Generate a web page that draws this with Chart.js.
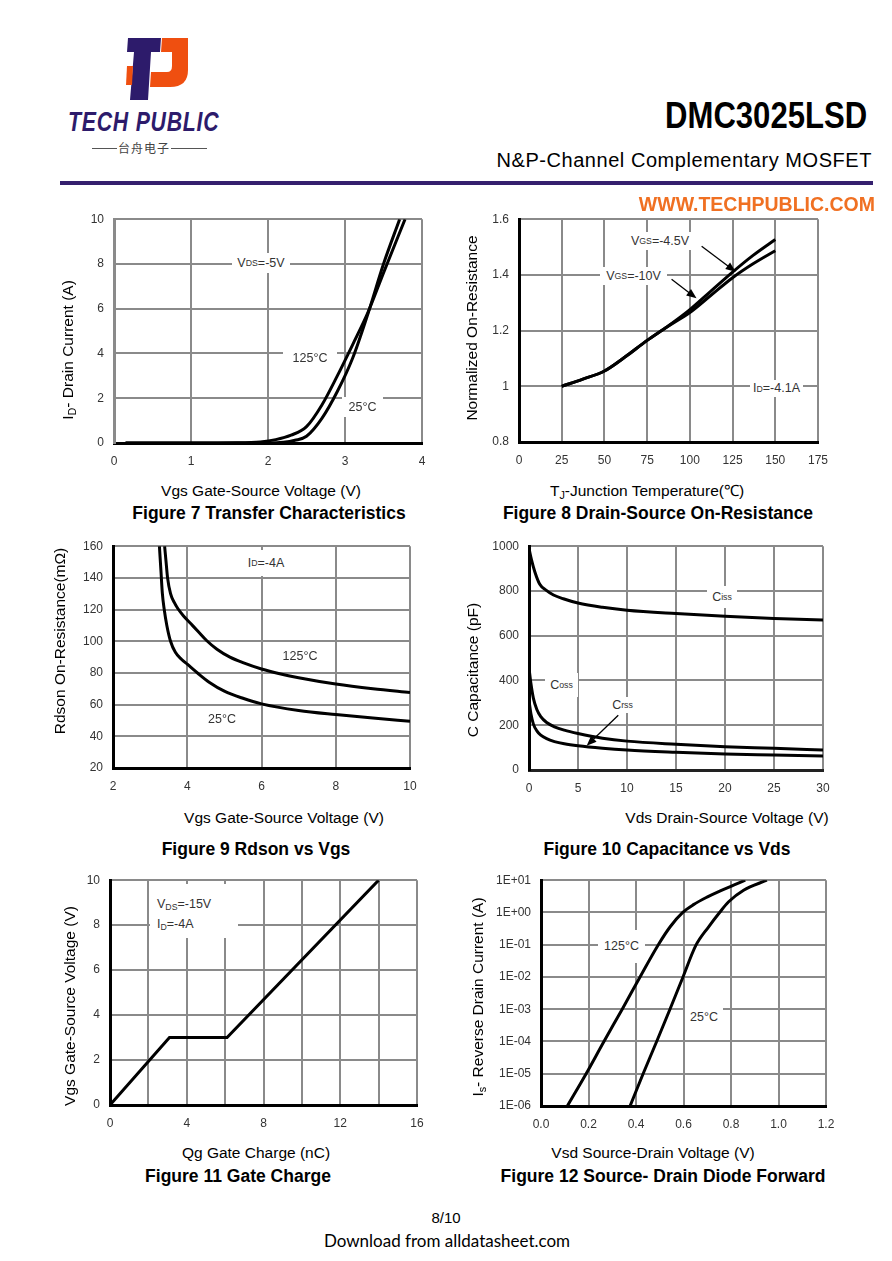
<!DOCTYPE html>
<html>
<head>
<meta charset="utf-8">
<title>DMC3025LSD</title>
<script>
"use strict";
// Figure 7 Transfer Characteristics
const fig7_x_ticks = [0, 1, 2, 3, 4];
const fig7_y_ticks = [0, 2, 4, 6, 8, 10];
const fig7_vgs_125 = [0.15, 1.0, 1.6, 1.9, 2.1, 2.3, 2.5, 2.7, 2.9, 3.1, 3.3, 3.5, 3.78];
const fig7_id_125 = [0, 0, 0.01, 0.05, 0.15, 0.35, 0.73, 1.7, 3.0, 4.4, 5.85, 7.6, 10];
const fig7_vgs_25 = [0.15, 1.0, 2.0, 2.2, 2.35, 2.5, 2.7, 2.9, 3.1, 3.3, 3.5, 3.71];
const fig7_id_25 = [0, 0, 0, 0.03, 0.12, 0.3, 1.1, 2.3, 3.8, 5.8, 8.0, 10];

// Figure 8 Drain-Source On-Resistance
const fig8_x_ticks = [0, 25, 50, 75, 100, 125, 150, 175];
const fig8_y_ticks = [0.8, 1, 1.2, 1.4, 1.6];
const fig8_temp = [25, 37, 50, 62, 75, 87, 100, 112, 125, 137, 150];
const fig8_vgs45 = [1.0, 1.025, 1.055, 1.105, 1.165, 1.215, 1.275, 1.34, 1.41, 1.47, 1.527];
const fig8_vgs10 = [1.0, 1.025, 1.055, 1.105, 1.165, 1.215, 1.265, 1.325, 1.39, 1.44, 1.487];
const fig8_arrows = [[106.9, 1.503, 126.8, 1.411], [89.3, 1.384, 103.9, 1.316]];

// Figure 9 Rdson vs Vgs
const fig9_x_ticks = [2, 4, 6, 8, 10];
const fig9_y_ticks = [20, 40, 60, 80, 100, 120, 140, 160];
const fig9_vgs_25 = [3.25, 3.29, 3.33, 3.38, 3.45, 3.55, 3.68, 3.85, 4.0, 4.3, 4.6, 5.0, 5.5, 6.0, 7, 8, 9, 10];
const fig9_r_25 = [160, 145, 130, 120, 110, 100, 93, 88.5, 85.5, 79.5, 74, 68.5, 64, 60.5, 56.3, 53.7, 51.5, 49.5];
const fig9_vgs_125 = [3.39, 3.43, 3.47, 3.55, 3.65, 3.75, 3.9, 4.1, 4.3, 4.52, 4.8, 5.15, 5.5, 6.0, 6.49, 7, 8, 9, 10];
const fig9_r_125 = [160, 150, 140, 130, 124.5, 120.5, 116, 111, 106, 100.5, 95, 90, 86.5, 82.5, 79.5, 77, 73, 70, 67.6];

// Figure 10 Capacitance vs Vds
const fig10_x_ticks = [0, 5, 10, 15, 20, 25, 30];
const fig10_y_ticks = [0, 200, 400, 600, 800, 1000];
const fig10_vds_iss = [0, 0.25, 0.6, 1.1, 1.7, 2.5, 3.5, 5, 7.5, 10, 15, 20, 25, 30];
const fig10_ciss = [990, 940, 885, 830, 805, 782, 765, 746, 727, 714, 699, 687, 677, 670];
const fig10_vds = [0, 0.2, 0.45, 0.8, 1.2, 1.8, 2.6, 3.6, 5, 7.5, 10, 15, 20, 25, 30];
const fig10_coss = [455, 385, 320, 270, 238, 212, 193, 178, 163, 142, 129, 115, 104, 97, 89];
const fig10_crss = [310, 250, 205, 175, 156, 140, 127, 117, 108, 97, 89, 79, 71, 67, 63];
const fig10_arrows = [[9.11, 245, 5.88, 108]];

// Figure 11 Gate Charge
const fig11_x_grid = [0, 2, 4, 6, 8, 10, 12, 14, 16];
const fig11_x_labels = [0, 4, 8, 12, 16];
const fig11_y_ticks = [0, 2, 4, 6, 8, 10];
const fig11_qg = [0, 3.1, 6.1, 14];
const fig11_vgs = [0, 3, 3, 10];

// Figure 12 Source- Drain Diode Forward
const fig12_x_ticks = [0, 0.2, 0.4, 0.6, 0.8, 1.0, 1.2];
const fig12_x_labels = ["0.0", "0.2", "0.4", "0.6", "0.8", "1.0", "1.2"];
const fig12_y_ticks = [1e-6, 1e-5, 1e-4, 1e-3, 1e-2, 1e-1, 1, 10];
const fig12_y_labels = ["1E-06", "1E-05", "1E-04", "1E-03", "1E-02", "1E-01", "1E+00", "1E+01"];
const fig12_vsd_125 = [0.111, 0.19, 0.265, 0.342, 0.417, 0.494, 0.544, 0.597, 0.642, 0.699, 0.755, 0.811, 0.86];
const fig12_is_125 = [1e-6, 1e-5, 1e-4, 1e-3, 1e-2, 0.1, 0.36, 1, 1.75, 3.0, 4.7, 7, 10];
const fig12_vsd_25 = [0.375, 0.43, 0.487, 0.543, 0.598, 0.652, 0.706, 0.752, 0.79, 0.853, 0.951];
const fig12_is_25 = [1e-6, 1e-5, 1e-4, 1e-3, 1e-2, 0.095, 0.36, 1, 2.14, 4.9, 10];
</script>
<script src="https://cdn.jsdelivr.net/npm/chart.js@4.4.1/dist/chart.umd.min.js"></script>
<style>
body { margin: 0; background: #fff; }
#page { position: relative; width: 892px; height: 1261px; overflow: hidden; background: #fff;
  font-family: "Liberation Sans", Arial, sans-serif; color: #000; }
.abs { position: absolute; white-space: nowrap; line-height: 1; }
canvas.fig { position: absolute; }
.ytitle, .xtitle, .caption { position: absolute; white-space: nowrap; line-height: 1; }
.ytitle { font-size: 15.5px; transform: translate(-50%, -50%) rotate(-90deg); }
.xtitle { font-size: 15.5px; transform: translate(-50%, -50%); }
.caption { font-size: 17.5px; font-weight: bold; transform: translate(-50%, -50%); }
.note { position: absolute; background: #fff; display: flex; align-items: center; justify-content: center;
  font-size: 12.5px; color: #333; white-space: nowrap; line-height: 1; }
sub { font-size: 0.7em; vertical-align: -0.25em; line-height: 0; }
</style>
</head>
<body>
<div id="page">
  <!-- header -->
  <svg class="abs" style="left:0;top:0" width="300" height="110" viewBox="0 0 300 110">
    <path d="M128 38 H161 L160 52 H151 L148 100 H130 L134 52 H127 Z" fill="#2d1b6b"/>
    <path d="M162 38 H188 V70 Q188 87 170 87 H150 L151 72 H167 Q172 72 172 66 V52 H161 Z" fill="#ef4f10"/>
    <path d="M127 66 H133 L132 85 H126 Z" fill="#ef4f10"/>
  </svg>
  <div class="abs" style="left:68px;top:108px;font-size:28px;font-weight:bold;font-style:italic;letter-spacing:1px;color:#2d1b6b;transform:scaleX(0.76);transform-origin:left top;">TECH PUBLIC</div>
  <div class="abs" style="left:92px;top:148px;width:25px;height:1px;background:#555"></div>
  <div class="abs" style="left:171px;top:148px;width:36px;height:1px;background:#555"></div>
  <div class="abs" style="left:144px;top:148px;transform:translate(-50%,-50%);font-family:'Noto Sans CJK SC';font-size:12px;letter-spacing:1px;color:#444">台舟电子</div>
  <div class="abs" style="right:25px;top:98px;font-size:36px;font-weight:bold;transform:scaleX(0.863);transform-origin:right top;">DMC3025LSD</div>
  <div class="abs" style="right:20px;top:150px;font-size:20px;letter-spacing:0.55px;">N&amp;P-Channel Complementary MOSFET</div>
  <div class="abs" style="left:60px;top:181px;width:813px;height:3.5px;background:#35206e"></div>
  <div class="abs" style="right:17px;top:194.5px;font-size:19.5px;font-weight:bold;color:#f07022;">WWW.TECHPUBLIC.COM</div>

  <!-- axis titles -->
  <div class="ytitle" style="left:68px;top:350px">I<sub>D</sub>- Drain Current (A)</div>
  <div class="xtitle" style="left:261px;top:491px">Vgs Gate-Source Voltage (V)</div>
  <div class="caption" style="left:269px;top:514px">Figure 7 Transfer Characteristics</div>

  <div class="ytitle" style="left:472px;top:328px">Normalized On-Resistance</div>
  <div class="xtitle" style="left:647px;top:491px">T<sub>J</sub>-Junction Temperature(℃)</div>
  <div class="caption" style="left:658px;top:514px">Figure 8 Drain-Source On-Resistance</div>

  <div class="ytitle" style="left:60px;top:641px">Rdson On-Resistance(mΩ)</div>
  <div class="xtitle" style="left:284px;top:818px">Vgs Gate-Source Voltage (V)</div>
  <div class="caption" style="left:256px;top:850px">Figure 9 Rdson vs Vgs</div>

  <div class="ytitle" style="left:473px;top:670px">C Capacitance (pF)</div>
  <div class="xtitle" style="left:727px;top:818px">Vds Drain-Source Voltage (V)</div>
  <div class="caption" style="left:667px;top:850px">Figure 10 Capacitance vs Vds</div>

  <div class="ytitle" style="left:70px;top:1006px">Vgs Gate-Source Voltage (V)</div>
  <div class="xtitle" style="left:256px;top:1153px">Qg Gate Charge (nC)</div>
  <div class="caption" style="left:238px;top:1177px">Figure 11 Gate Charge</div>

  <div class="ytitle" style="left:478px;top:997px">I<sub>s</sub>- Reverse Drain Current (A)</div>
  <div class="xtitle" style="left:653px;top:1153px">Vsd Source-Drain Voltage (V)</div>
  <div class="caption" style="left:663px;top:1177px">Figure 12 Source- Drain Diode Forward</div>

  <!-- in-plot notes -->
  <div class="note" style="left:232px;top:253px;width:58px;height:20px">V<sub>DS</sub>=-5V</div>
  <div class="note" style="left:283px;top:348px;width:54px;height:21px">125°C</div>
  <div class="note" style="left:342px;top:397px;width:41px;height:20px">25°C</div>

  <div class="note" style="left:627px;top:232px;width:66px;height:18px">V<sub>GS</sub>=-4.5V</div>
  <div class="note" style="left:600px;top:267px;width:67px;height:18px">V<sub>GS</sub>=-10V</div>
  <div class="note" style="left:750px;top:380px;width:53px;height:17px">I<sub>D</sub>=-4.1A</div>

  <div class="note" style="left:241px;top:550px;width:50px;height:26px">I<sub>D</sub>=-4A</div>
  <div class="note" style="left:280px;top:648px;width:40px;height:16px">125°C</div>
  <div class="note" style="left:205px;top:711px;width:34px;height:16px">25°C</div>

  <div class="note" style="left:707px;top:586px;width:30px;height:22px">C<sub>iss</sub></div>
  <div class="note" style="left:545px;top:673px;width:33px;height:24px">C<sub>oss</sub></div>
  <div class="note" style="left:610px;top:697px;width:25px;height:16px">C<sub>rss</sub></div>

  <div class="note" style="left:150px;top:884px;width:88px;height:54px;display:block">
    <div class="abs" style="left:7px;top:14px">V<sub>DS</sub>=-15V</div>
    <div class="abs" style="left:7px;top:34px">I<sub>D</sub>=-4A</div>
  </div>

  <div class="note" style="left:598px;top:930px;width:47px;height:33px">125°C</div>
  <div class="note" style="left:685px;top:1002px;width:38px;height:30px">25°C</div>

  <!-- footer -->
  <div class="abs" style="left:446px;top:1217px;transform:translate(-50%,-50%);font-size:15px;">8/10</div>
  <div class="abs" style="left:447px;top:1240px;transform:translate(-50%,-50%);font-family:Lato,'Open Sans',sans-serif;font-size:17px;">Download from alldatasheet.com</div>
</div>

<script>
"use strict";
(function() {
  const PAD_L = 70, PAD_T = 12, PAD_R = 25, PAD_B = 32;
  const GRID = "#8a8a8a";
  const TICK_FONT = { family: '"Liberation Sans", Arial, sans-serif', size: 12 };
  const page = document.getElementById("page");

  Chart.defaults.font.family = TICK_FONT.family;

  function pts(xs, ys) {
    return xs.map((x, i) => ({ x: x, y: ys[i] }));
  }

  function curve(xs, ys, smooth) {
    return {
      data: pts(xs, ys),
      borderColor: "#000",
      borderWidth: 3,
      pointRadius: 0,
      fill: false,
      tension: 0,
      cubicInterpolationMode: smooth ? "monotone" : "default"
    };
  }

  // one axis: grid at grid_values, labels from label_fn
  function axis(kind, grid_values, label_fn, border_color, is_x) {
    return {
      type: kind,
      min: grid_values[0],
      max: grid_values[grid_values.length - 1],
      afterBuildTicks: s => { s.ticks = grid_values.map(v => ({ value: v })); },
      afterFit: s => {
        if(is_x) s.height = PAD_B; else s.width = PAD_L;
      },
      ticks: {
        autoSkip: false,
        maxRotation: 0,
        font: TICK_FONT,
        color: "#333",
        padding: is_x ? 11 : 10,
        callback: (v, i) => label_fn(v, i)
      },
      grid: { color: GRID, lineWidth: 2, drawTicks: false },
      border: { color: border_color, width: 3 }
    };
  }

  const arrow_plugin = {
    id: "arrows",
    afterDatasetsDraw(chart, args, opts) {
      const list = opts.list || [];
      const ctx = chart.ctx;
      const xs = chart.scales.x, ys = chart.scales.y;
      list.forEach(a => {
        const x1 = xs.getPixelForValue(a[0]), y1 = ys.getPixelForValue(a[1]);
        const x2 = xs.getPixelForValue(a[2]), y2 = ys.getPixelForValue(a[3]);
        const ang = Math.atan2(y2 - y1, x2 - x1);
        const len = 10, half = 4;
        ctx.save();
        ctx.strokeStyle = "#000";
        ctx.fillStyle = "#000";
        ctx.lineWidth = 1.3;
        ctx.beginPath();
        ctx.moveTo(x1, y1);
        ctx.lineTo(x2 - Math.cos(ang) * len * 0.8, y2 - Math.sin(ang) * len * 0.8);
        ctx.stroke();
        ctx.beginPath();
        ctx.moveTo(x2, y2);
        ctx.lineTo(x2 - Math.cos(ang) * len - Math.sin(ang) * half, y2 - Math.sin(ang) * len + Math.cos(ang) * half);
        ctx.lineTo(x2 - Math.cos(ang) * len + Math.sin(ang) * half, y2 - Math.sin(ang) * len - Math.cos(ang) * half);
        ctx.closePath();
        ctx.fill();
        ctx.restore();
      });
    }
  };

  function add_chart(box, make_x, make_y, make_sets, arrows) {
    const canvas = document.createElement("canvas");
    canvas.className = "fig";
    page.insertBefore(canvas, page.firstChild);
    const config = () => ({
      type: "line",
      data: { datasets: make_sets() },
      options: {
        responsive: false,
        maintainAspectRatio: false,
        animation: false,
        parsing: false,
        layout: { padding: { left: 0, top: PAD_T, right: PAD_R, bottom: 0 } },
        plugins: {
          legend: { display: false },
          tooltip: { enabled: false },
          arrows: { list: arrows || [] }
        },
        scales: { x: make_x(), y: make_y() }
      },
      plugins: [arrow_plugin]
    });
    let w = box.w + PAD_L + PAD_R, h = box.h + PAD_T + PAD_B;
    let chart, area;
    // the layout may reserve a little more than asked: grow the canvas until the plot box fits
    for(let pass = 0; pass < 3; pass++) {
      canvas.width = w;
      canvas.height = h;
      chart = new Chart(canvas, config());
      area = chart.chartArea;
      const dw = Math.round(box.w - (area.right - area.left));
      const dh = Math.round(box.h - (area.bottom - area.top));
      if(dw === 0 && dh === 0) break;
      chart.destroy();
      w += dw;
      h += dh;
    }
    canvas.style.left = (box.x - area.left) + "px";
    canvas.style.top = (box.y - area.top) + "px";
    return chart;
  }

  const plain = v => String(v);

  // Figure 7
  add_chart({ x: 114, y: 219, w: 308, h: 224 },
    () => axis("linear", fig7_x_ticks, plain, "#000", true),
    () => axis("linear", fig7_y_ticks, plain, GRID, false),
    () => [curve(fig7_vgs_125, fig7_id_125, true), curve(fig7_vgs_25, fig7_id_25, true)]);

  // Figure 8
  add_chart({ x: 519, y: 219, w: 299, h: 223 },
    () => axis("linear", fig8_x_ticks, plain, "#000", true),
    () => axis("linear", fig8_y_ticks, plain, "#000", false),
    () => [curve(fig8_temp, fig8_vgs45, true), curve(fig8_temp, fig8_vgs10, true)],
    fig8_arrows);

  // Figure 9
  add_chart({ x: 113, y: 546, w: 297, h: 222 },
    () => axis("linear", fig9_x_ticks, plain, "#000", true),
    () => axis("linear", fig9_y_ticks, plain, "#000", false),
    () => [curve(fig9_vgs_25, fig9_r_25, true), curve(fig9_vgs_125, fig9_r_125, true)]);

  // Figure 10
  add_chart({ x: 529, y: 546, w: 294, h: 224 },
    () => axis("linear", fig10_x_ticks, plain, "#222", true),
    () => axis("linear", fig10_y_ticks, plain, "#000", false),
    () => [curve(fig10_vds_iss, fig10_ciss, true), curve(fig10_vds, fig10_coss, true), curve(fig10_vds, fig10_crss, true)],
    fig10_arrows);

  // Figure 11
  add_chart({ x: 110, y: 880, w: 307, h: 225 },
    () => axis("linear", fig11_x_grid, v => fig11_x_labels.includes(v) ? String(v) : "", "#000", true),
    () => axis("linear", fig11_y_ticks, plain, "#000", false),
    () => [curve(fig11_qg, fig11_vgs, false)]);

  // Figure 12
  add_chart({ x: 541, y: 880, w: 285, h: 226 },
    () => axis("linear", fig12_x_ticks, (v, i) => fig12_x_labels[i], "#000", true),
    () => axis("logarithmic", fig12_y_ticks, (v, i) => fig12_y_labels[i], "#000", false),
    () => [curve(fig12_vsd_125, fig12_is_125, true), curve(fig12_vsd_25, fig12_is_25, true)]);
})();
</script>
</body>
</html>
